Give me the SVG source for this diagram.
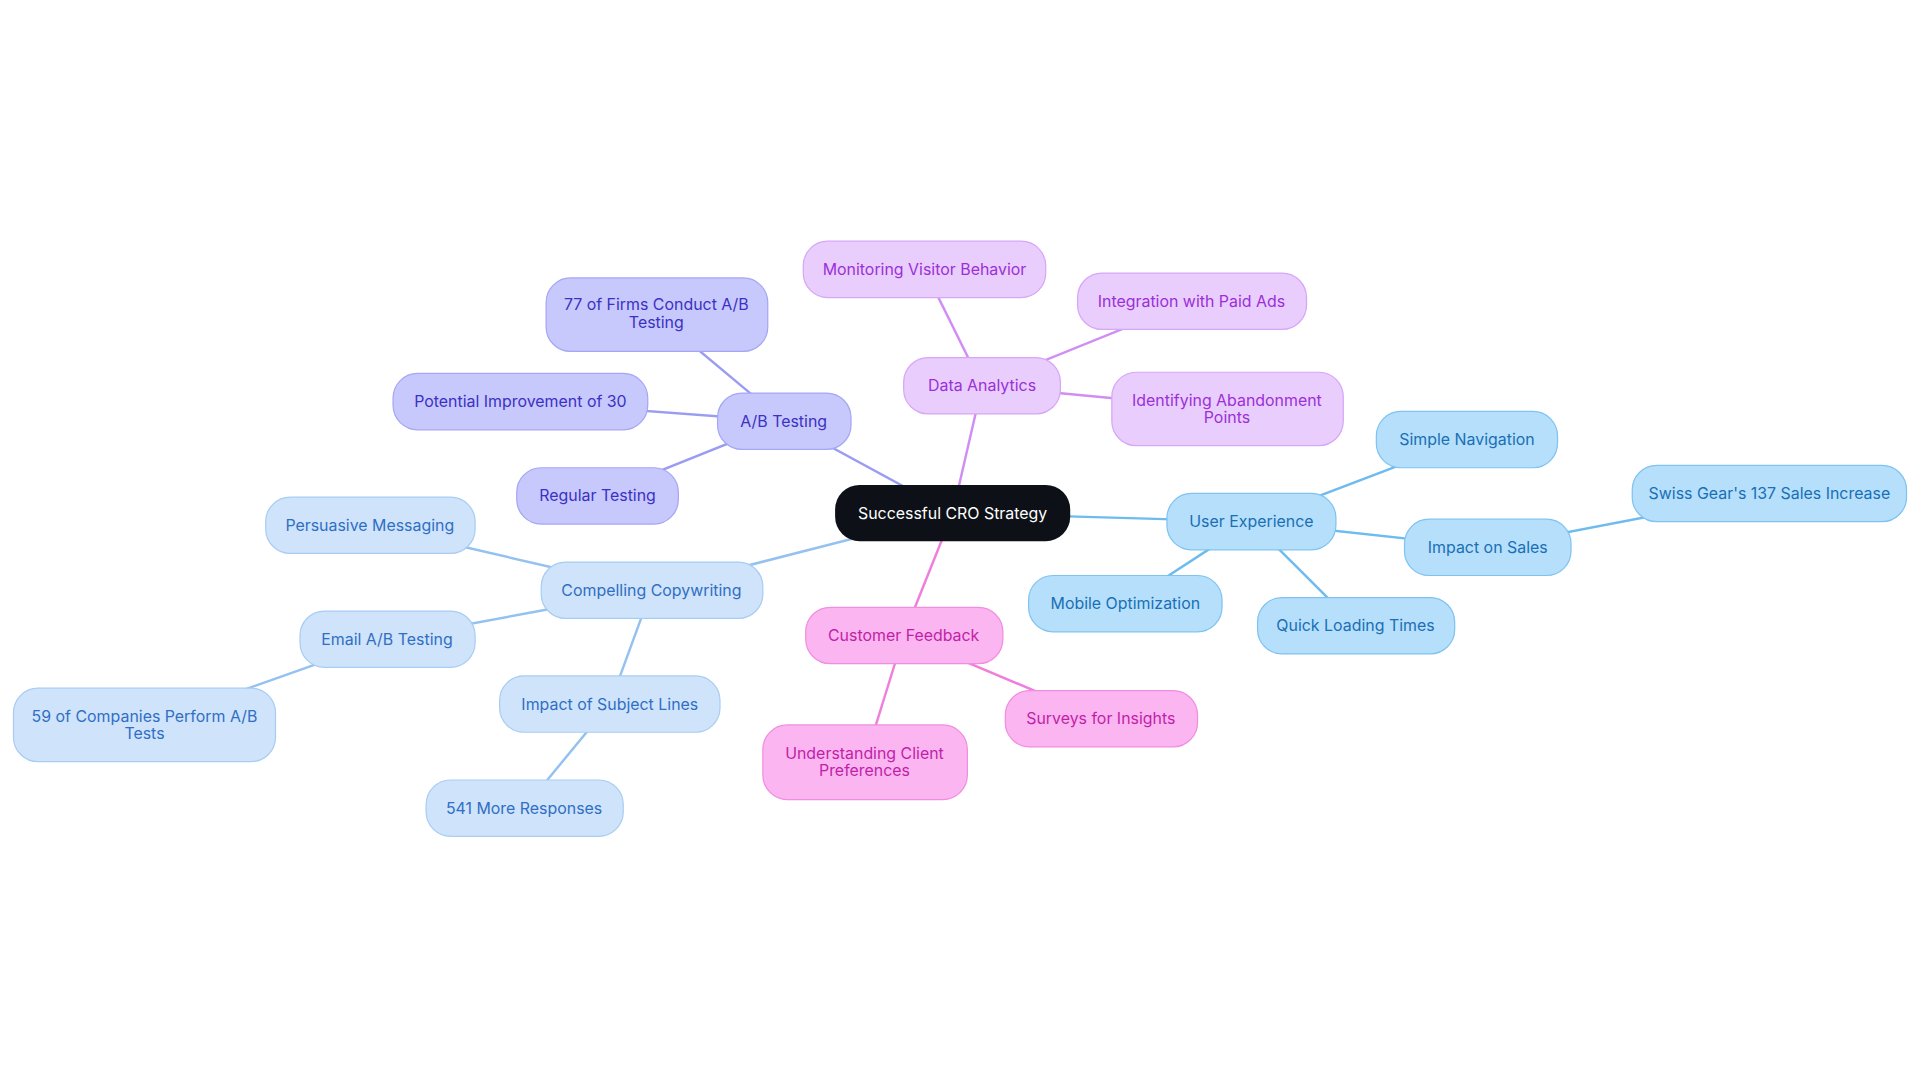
<svg xmlns="http://www.w3.org/2000/svg" width="1920" height="1083" viewBox="0 0 1920 1083">
<style>
text{font-family:Inter,"Noto Sans",sans-serif;font-size:13px;text-anchor:middle;dominant-baseline:central}
.ab rect{fill:#c7c8fb;stroke:#a5a6f5}.ab text{fill:#3b31c4}
.da rect{fill:#e9cdfc;stroke:#d6a6f7}.da text{fill:#9b30d9}
.ux rect{fill:#b5dffb;stroke:#7fc3f0}.ux text{fill:#1a6fb5}
.cc rect{fill:#cfe3fb;stroke:#a8cdf3}.cc text{fill:#2f6fc4}
.cf rect{fill:#fbb5f0;stroke:#f08ee0}.cf text{fill:#c21fa8}
#edges line{stroke-width:2}
</style>
<rect width="1920" height="1083" fill="#fff"/>
<g transform="scale(1.22449)">
<g id="edges">
<g stroke="#9a9cf2"><line x1="778" y1="419" x2="640" y2="344"/><line x1="640" y1="344" x2="536" y2="257"/><line x1="640" y1="344" x2="425" y2="328"/><line x1="640" y1="344" x2="488" y2="405"/></g>
<g stroke="#d08ef5"><line x1="778" y1="419" x2="802" y2="315"/><line x1="802" y1="315" x2="755" y2="220"/><line x1="802" y1="315" x2="973" y2="246"/><line x1="802" y1="315" x2="1002" y2="334"/></g>
<g stroke="#6dbbef"><line x1="778" y1="419" x2="1022" y2="426"/><line x1="1022" y1="426" x2="1198" y2="359"/><line x1="1022" y1="426" x2="1215" y2="447"/><line x1="1215" y1="447" x2="1445" y2="403"/><line x1="1022" y1="426" x2="919" y2="493"/><line x1="1022" y1="426" x2="1107" y2="511"/></g>
<g stroke="#94c1ef"><line x1="778" y1="419" x2="532" y2="482"/><line x1="532" y1="482" x2="302" y2="429"/><line x1="532" y1="482" x2="316" y2="522"/><line x1="316" y1="522" x2="118" y2="592"/><line x1="532" y1="482" x2="498" y2="575"/><line x1="498" y1="575" x2="428" y2="660"/></g>
<g stroke="#f07fdc"><line x1="778" y1="419" x2="738" y2="519"/><line x1="738" y1="519" x2="899" y2="587"/><line x1="738" y1="519" x2="706" y2="622"/></g>
</g>
<g id="center"><rect x="682" y="396" width="192" height="46" rx="20" fill="#0d1117"/><text x="778" y="419" fill="#fff">Successful CRO Strategy</text></g>
<g class="ab">
<g id="ab"><rect x="586" y="321" width="109" height="46" rx="20"/><text x="640" y="344">A/B Testing</text></g>
<g id="ab1"><rect x="446" y="227" width="181" height="60" rx="20"/><text x="536" y="249">77 of Firms Conduct A/B</text><text x="536" y="263">Testing</text></g>
<g id="ab2"><rect x="321" y="305" width="208" height="46" rx="20"/><text x="425" y="328">Potential Improvement of 30</text></g>
<g id="ab3"><rect x="422" y="382" width="132" height="46" rx="20"/><text x="488" y="405">Regular Testing</text></g>
</g>
<g class="da">
<g id="da"><rect x="738" y="292" width="128" height="46" rx="20"/><text x="802" y="315">Data Analytics</text></g>
<g id="da1"><rect x="656" y="197" width="198" height="46" rx="20"/><text x="755" y="220">Monitoring Visitor Behavior</text></g>
<g id="da2"><rect x="880" y="223" width="187" height="46" rx="20"/><text x="973" y="246">Integration with Paid Ads</text></g>
<g id="da3"><rect x="908" y="304" width="189" height="60" rx="20"/><text x="1002" y="327">Identifying Abandonment</text><text x="1002" y="341">Points</text></g>
</g>
<g class="ux">
<g id="ux"><rect x="953" y="403" width="138" height="46" rx="20"/><text x="1022" y="426">User Experience</text></g>
<g id="ux1"><rect x="1124" y="336" width="148" height="46" rx="20"/><text x="1198" y="359">Simple Navigation</text></g>
<g id="ux2"><rect x="1147" y="424" width="136" height="46" rx="20"/><text x="1215" y="447">Impact on Sales</text></g>
<g id="ux3"><rect x="1333" y="380" width="224" height="46" rx="20"/><text x="1445" y="403">Swiss Gear's 137 Sales Increase</text></g>
<g id="ux4"><rect x="840" y="470" width="158" height="46" rx="20"/><text x="919" y="493">Mobile Optimization</text></g>
<g id="ux5"><rect x="1027" y="488" width="161" height="46" rx="20"/><text x="1107" y="511">Quick Loading Times</text></g>
</g>
<g class="cc">
<g id="cc"><rect x="442" y="459" width="181" height="46" rx="20"/><text x="532" y="482">Compelling Copywriting</text></g>
<g id="cc1"><rect x="217" y="406" width="171" height="46" rx="20"/><text x="302" y="429">Persuasive Messaging</text></g>
<g id="cc2"><rect x="245" y="499" width="143" height="46" rx="20"/><text x="316" y="522">Email A/B Testing</text></g>
<g id="cc3"><rect x="11" y="562" width="214" height="60" rx="20"/><text x="118" y="585">59 of Companies Perform A/B</text><text x="118" y="599">Tests</text></g>
<g id="cc4"><rect x="408" y="552" width="180" height="46" rx="20"/><text x="498" y="575">Impact of Subject Lines</text></g>
<g id="cc5"><rect x="348" y="637" width="161" height="46" rx="20"/><text x="428" y="660">541 More Responses</text></g>
</g>
<g class="cf">
<g id="cf"><rect x="658" y="496" width="161" height="46" rx="20"/><text x="738" y="519">Customer Feedback</text></g>
<g id="cf1"><rect x="821" y="564" width="157" height="46" rx="20"/><text x="899" y="587">Surveys for Insights</text></g>
<g id="cf2"><rect x="623" y="592" width="167" height="61" rx="20"/><text x="706" y="615">Understanding Client</text><text x="706" y="629">Preferences</text></g>
</g>
</g>
</svg>
